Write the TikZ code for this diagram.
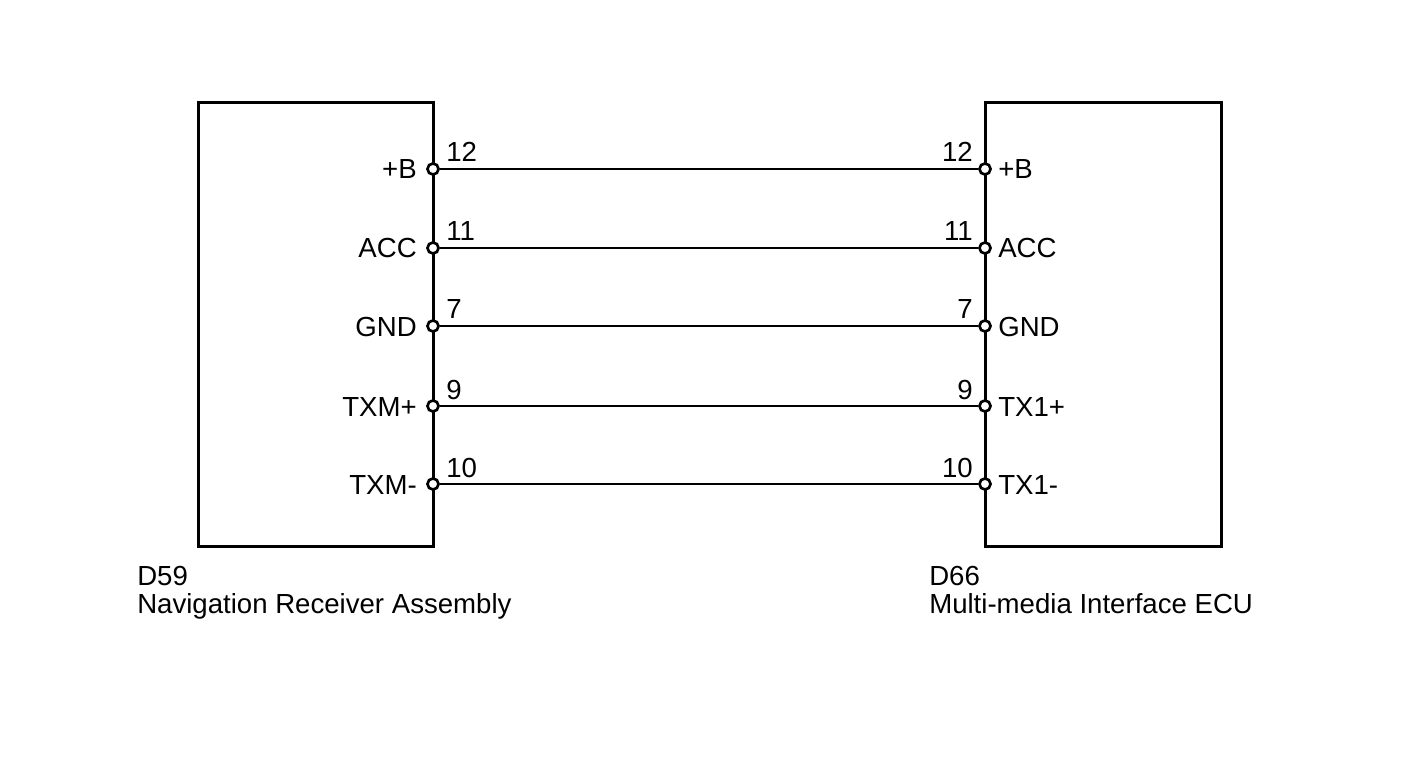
\documentclass[tikz,border=0pt]{standalone}
\usepackage{fontspec}
\setmainfont{Liberation Sans}
\begin{document}
\begin{tikzpicture}[x=0.75pt,y=-0.75pt,
  box/.style={draw=black,line width=2.25pt},
  wire/.style={draw=black,line width=1.5pt},
  term/.style={circle,draw=black,fill=white,line width=2pt,inner sep=0pt,minimum size=8.3pt},
  lbl/.style={font=\fontsize{20.7}{24}\selectfont,inner sep=0pt},
  captxt/.style={font=\fontsize{20.7}{24}\selectfont,inner sep=0pt,anchor=base west,align=left}]
\useasboundingbox[fill=white] (0,0) rectangle (1424,759);
\draw[box] (198,103) rectangle (433,546);
\draw[box] (985,103) rectangle (1221,546);
\foreach \y/\la/\lb [count=\i] in {169/+B/+B, 248/ACC/ACC, 326/GND/GND, 406/TXM+/TX1+, 484/TXM-/TX1-}{
  \node[term] (L\i) at (433,\y) {};
  \node[term] (R\i) at (985,\y) {};
  \draw[wire] (L\i) -- (R\i);
  \node[lbl,anchor=base east] (LL\i) at (417,\y+10) {\la};
  \node[lbl,anchor=base west] (RL\i) at (998,\y+10) {\lb};
}
\foreach \y/\n [count=\i] in {162/12, 241/11, 319/7, 399/9, 477/10}{
  \node[lbl,anchor=base west] (NL\i) at (446,\y) {\n};
  \node[lbl,anchor=base east] (NR\i) at (973,\y) {\n};
}
\node[captxt] (c1) at (137,585) {D59};
\node[captxt] (c2) at (137,613) {Navigation Receiver Assembly};
\node[captxt] (c3) at (929,585) {D66};
\node[captxt] (c4) at (929,613) {Multi-media Interface ECU};
\end{tikzpicture}
\end{document}
